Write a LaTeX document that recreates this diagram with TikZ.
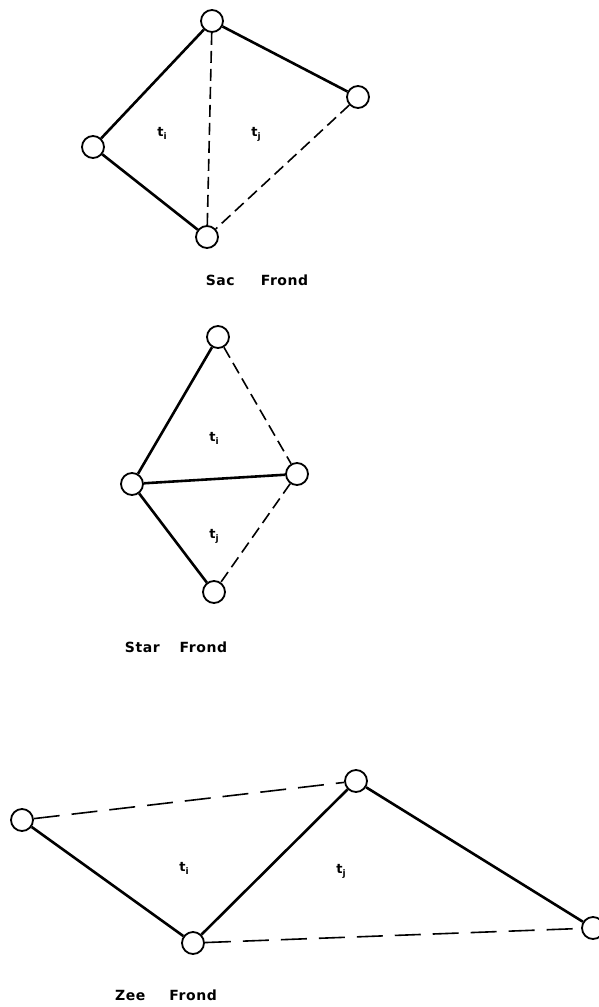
\documentclass[tikz,border=0pt]{standalone}
\usepackage{fontspec}
\newfontfamily\capfont[LetterSpace=4]{DejaVu Sans Bold}
\begin{document}
\begin{tikzpicture}[x=1pt,y=-1pt,
  vtx/.style={circle,draw,fill=white,line width=1.8pt,minimum size=22pt,inner sep=0pt},
  solidedge/.style={line width=2.6pt},
  dashS/.style={line width=1.6pt,dash pattern=on 12pt off 6pt},
  dashZ/.style={line width=1.6pt,dash pattern=on 26pt off 12pt},
  lbl/.style={font=\capfont\fontsize{13}{15}\selectfont,inner sep=0pt},
  captxt/.style={font=\capfont\fontsize{14}{16}\selectfont,inner sep=0pt}]
\useasboundingbox (0,0) rectangle (599,1007);
% Sac Frond
\node[vtx] (sT) at (212,21) {};
\node[vtx] (sR) at (358,97) {};
\node[vtx] (sL) at (93,147) {};
\node[vtx] (sB) at (207,237) {};
\draw[solidedge] (sT) -- (sL);
\draw[solidedge] (sL) -- (sB);
\draw[solidedge] (sT) -- (sR);
\draw[dashS] (sT) -- (sB);
\draw[dashS] (sR) -- (sB);
\node[lbl] (sti) at (162,133) {t\raisebox{-3pt}{\fontsize{9}{10}\selectfont i}};
\node[lbl] (stj) at (256,134) {t\raisebox{-3pt}{\fontsize{9}{10}\selectfont j}};
\node[captxt] (scap) at (257,280) {Sac\hspace{26pt}Frond};
% Star Frond
\node[vtx] (rT) at (218,337) {};
\node[vtx] (rL) at (132,484) {};
\node[vtx] (rR) at (297,474) {};
\node[vtx] (rB) at (214,592) {};
\draw[solidedge] (rT) -- (rL);
\draw[solidedge] (rL) -- (rR);
\draw[solidedge] (rL) -- (rB);
\draw[dashS] (rT) -- (rR);
\draw[dashS] (rR) -- (rB);
\node[lbl] (rti) at (214,438) {t\raisebox{-3pt}{\fontsize{9}{10}\selectfont i}};
\node[lbl] (rtj) at (214,536) {t\raisebox{-3pt}{\fontsize{9}{10}\selectfont j}};
\node[captxt] (rcap) at (176,647) {Star\hspace{20pt}Frond};
% Zee Frond
\node[vtx] (zL) at (22,820) {};
\node[vtx] (zT) at (356,781) {};
\node[vtx] (zB) at (193,943) {};
\node[vtx] (zR) at (593,928) {};
\draw[solidedge] (zL) -- (zB);
\draw[solidedge] (zB) -- (zT);
\draw[solidedge] (zT) -- (zR);
\draw[dashZ] (zL) -- (zT);
\draw[dashZ] (zB) -- (zR);
\node[lbl] (zti) at (184,868) {t\raisebox{-3pt}{\fontsize{9}{10}\selectfont i}};
\node[lbl] (ztj) at (341,871) {t\raisebox{-3pt}{\fontsize{9}{10}\selectfont j}};
\node[captxt] (zcap) at (166,995) {Zee\hspace{24pt}Frond};
\end{tikzpicture}
\end{document}
